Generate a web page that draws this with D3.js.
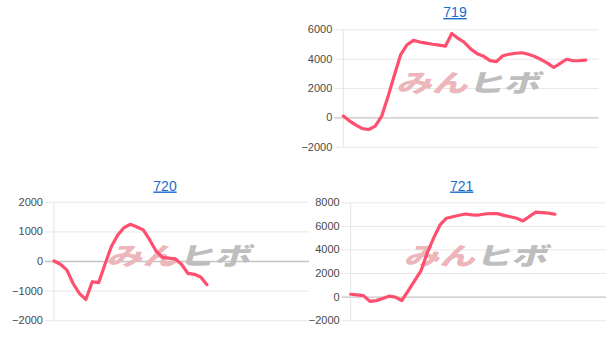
<!DOCTYPE html>
<html>
<head>
<meta charset="utf-8">
<script src="https://cdn.jsdelivr.net/npm/d3@7"></script>
<style>
  body { margin: 0; background: #fff; }
  svg { display: block; }
</style>
</head>
<body>
<div id="wrapper"></div>
<script>
// x slots shared by all three charts (the series stop at different points)
const slotCount = 40;

const values719 = [
  100, -250, -520, -760, -820, -590, 70, 1400, 2870, 4280,
  4950, 5250, 5130, 5060, 4980, 4920, 4850, 5720, 5380, 5100,
  4650, 4340, 4160, 3870, 3800, 4200, 4300, 4370, 4400, 4300,
  4150, 3940, 3700, 3400, 3680, 3960, 3860, 3870, 3900
];
const values720 = [
  0, -110, -300, -760, -1100, -1300, -700, -730, -110, 490,
  880, 1130, 1240, 1150, 1050, 720, 340, 120, 95, 70,
  -110, -420, -450, -540, -800
];
const values721 = [
  200, 150, 80, -400, -340, -150, 40, -40, -330, 480,
  1330, 2180, 3720, 4980, 6080, 6650, 6770, 6900, 7010, 6930,
  6920, 7010, 7050, 7040, 6890, 6770, 6650, 6420, 6800, 7160,
  7130, 7080, 6990
];

const ticks719 = [-2000, 0, 2000, 4000, 6000];
const ticks720 = [-2000, -1000, 0, 1000, 2000];
const ticks721 = [-2000, 0, 2000, 4000, 6000, 8000];

const panels = [
  { title: "719", values: values719, ticks: ticks719,
    left: 343.3, right: 598.5, top: 29.3, bottom: 146.8, titleX: 455, titleY: 17 },
  { title: "720", values: values720, ticks: ticks720,
    left: 54, right: 309, top: 201.8, bottom: 320.2, titleX: 165, titleY: 190.5 },
  { title: "721", values: values721, ticks: ticks721,
    left: 350.7, right: 606, top: 202.3, bottom: 320.2, titleX: 461.7, titleY: 190.5 }
];

const svg = d3.select("#wrapper")
  .append("svg")
  .attr("width", 610)
  .attr("height", 349);

function drawPanel(p) {
  const g = svg.append("g");

  const xScale = d3.scaleLinear()
    .domain([0, slotCount])
    .range([p.left, p.right]);

  const yScale = d3.scaleLinear()
    .domain(d3.extent(p.ticks))
    .range([p.bottom, p.top]);

  // gridlines, drawn through the tick area left of the axis
  const yAxisGenerator = d3.axisLeft(yScale)
    .tickValues(p.ticks)
    .tickSize(-(p.right - p.left) - 9)
    .tickPadding(2)
    .tickFormat(d3.format("d"));

  const yAxis = g.append("g")
    .attr("transform", `translate(${p.left - 9},0)`)
    .call(yAxisGenerator);

  yAxis.select(".domain").remove();
  yAxis.selectAll(".tick line")
    .attr("stroke", d => d === 0 ? "#c4c4c4" : "#e8e8e8")
    .attr("stroke-width", d => d === 0 ? 1.3 : 1);
  yAxis.selectAll(".tick text")
    .attr("fill", "#4a4a4a")
    .attr("font-family", "Liberation Sans, Arial, sans-serif")
    .attr("font-size", 11);

  // left axis line
  g.append("line")
    .attr("x1", p.left).attr("x2", p.left)
    .attr("y1", p.top).attr("y2", p.bottom)
    .attr("stroke", "#e4e4e4");

  // watermark
  const cx = (p.left + p.right) / 2;
  const cy = (p.top + p.bottom) / 2 - 7;
  const mark = g.append("text")
    .attr("transform", `translate(${cx},${cy}) skewX(-16) scale(1.38,0.95)`)
    .attr("text-anchor", "middle")
    .attr("dominant-baseline", "central")
    .attr("font-family", "Noto Sans CJK JP")
    .attr("font-weight", 900)
    .attr("font-size", 26);
  mark.append("tspan").attr("fill", "#ecb6ba").text("みん");
  mark.append("tspan").attr("fill", "#bebebe").text("ヒボ");

  const line = d3.line()
    .x((d, i) => xScale(i))
    .y(d => yScale(d));

  g.append("path")
    .datum(p.values)
    .attr("d", line)
    .attr("fill", "none")
    .attr("stroke", "#ff4f6f")
    .attr("stroke-width", 3.2)
    .attr("stroke-linejoin", "round")
    .attr("stroke-linecap", "round");

  g.append("text")
    .attr("x", p.titleX)
    .attr("y", p.titleY)
    .attr("text-anchor", "middle")
    .attr("fill", "#1a6dcc")
    .attr("font-family", "Liberation Sans, Arial, sans-serif")
    .attr("font-size", 14)
    .attr("text-decoration", "underline")
    .text(p.title);
}

panels.forEach(drawPanel);
</script>
</body>
</html>
